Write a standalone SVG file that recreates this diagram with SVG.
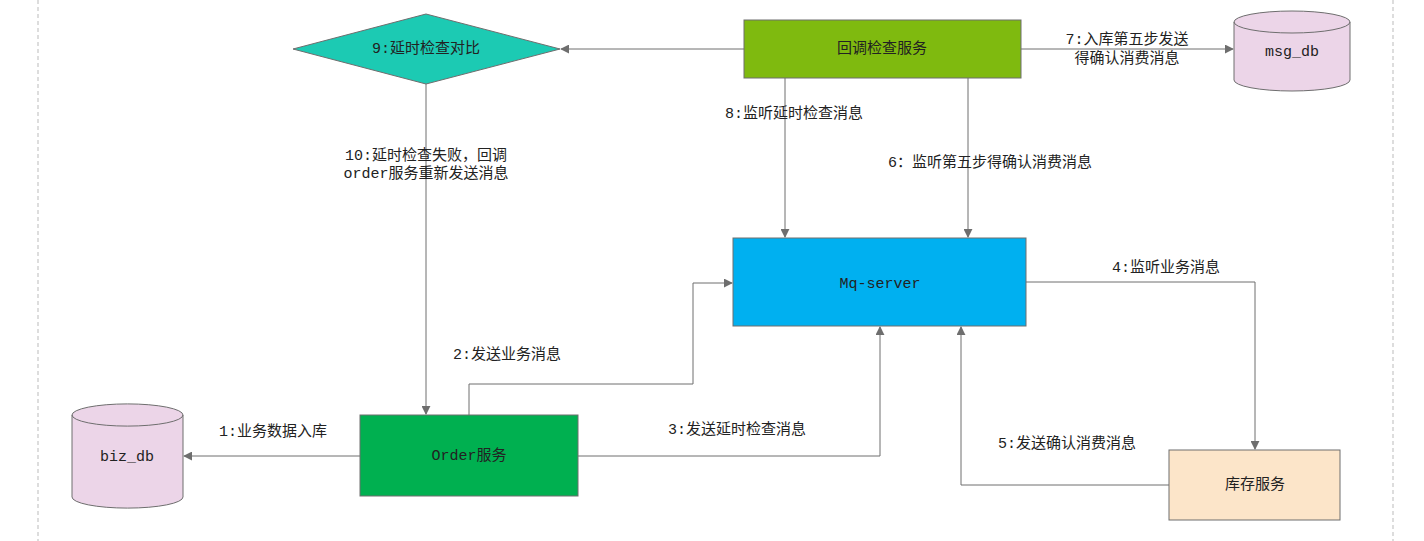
<svg xmlns="http://www.w3.org/2000/svg" width="1424" height="541" viewBox="0 0 1424 541">
<style>
text{font-family:"Liberation Mono","Noto Sans CJK SC",monospace;font-size:15px;fill:#222;text-anchor:middle;dominant-baseline:central}
.n{stroke:#6e6e6e;stroke-width:1}
.c path{fill:none;stroke:#6e6e6e;stroke-width:1;marker-end:url(#a)}
</style>
<defs><marker id="a" viewBox="0 0 10 10" refX="9" refY="5" markerWidth="9" markerHeight="9" markerUnits="userSpaceOnUse" orient="auto"><path d="M0,0L10,5L0,10z" fill="#6e6e6e"/></marker></defs>
<rect width="1424" height="541" fill="#fff"/>
<line x1="38" y1="0" x2="38" y2="541" stroke="#bbb" stroke-dasharray="4,3"/>
<line x1="1393" y1="0" x2="1393" y2="541" stroke="#bbb" stroke-dasharray="4,3"/>
<g class="c">
<path d="M744,49H561"/>
<path d="M1021,49H1233"/>
<path d="M426,84V414"/>
<path d="M785,78V237"/>
<path d="M968,78V237"/>
<path d="M469,415V384H693V283H732"/>
<path d="M578,456H880V327"/>
<path d="M360,456H184"/>
<path d="M1026,282H1255V449"/>
<path d="M1169,485H961V327"/>
</g>
<g id="check"><polygon class="n" points="293,49 426,14 560,49 426,84" fill="#1ccab3"/><text x="426" y="49">9:延时检查对比</text></g>
<g id="callback"><rect class="n" x="744" y="20" width="277" height="58" fill="#7fba0f"/><text x="882" y="49">回调检查服务</text></g>
<g id="msgdb"><path class="n" d="M1234,22V80A58,11 0 0 0 1350,80V22A58,11 0 0 0 1234,22A58,11 0 0 0 1350,22" fill="#ecd5e8"/><text x="1292" y="52">msg_db</text></g>
<g id="mq"><rect class="n" x="733" y="238" width="293" height="88" fill="#00b0f0"/><text x="880" y="284">Mq-server</text></g>
<g id="order"><rect class="n" x="360" y="415" width="218" height="81" fill="#00b050"/><text x="469" y="456">Order服务</text></g>
<g id="bizdb"><path class="n" d="M72,415V497A55,11 0 0 0 183,497V415A55,11 0 0 0 72,415A55,11 0 0 0 183,415" fill="#ecd5e8"/><text x="127" y="457">biz_db</text></g>
<g id="stock"><rect class="n" x="1169" y="450" width="171" height="70" fill="#fce5c9"/><text x="1255" y="485">库存服务</text></g>
<g id="labels">
<text x="1127" y="40">7:入库第五步发送</text>
<text x="1127" y="59">得确认消费消息</text>
<text x="794" y="114">8:监听延时检查消息</text>
<text x="990" y="163">6：监听第五步得确认消费消息</text>
<text x="426" y="156">10:延时检查失败，回调</text>
<text x="426" y="174">order服务重新发送消息</text>
<text x="507" y="355">2:发送业务消息</text>
<text x="737" y="430">3:发送延时检查消息</text>
<text x="273" y="432">1:业务数据入库</text>
<text x="1166" y="268">4:监听业务消息</text>
<text x="1067" y="444">5:发送确认消费消息</text>
</g>
</svg>
